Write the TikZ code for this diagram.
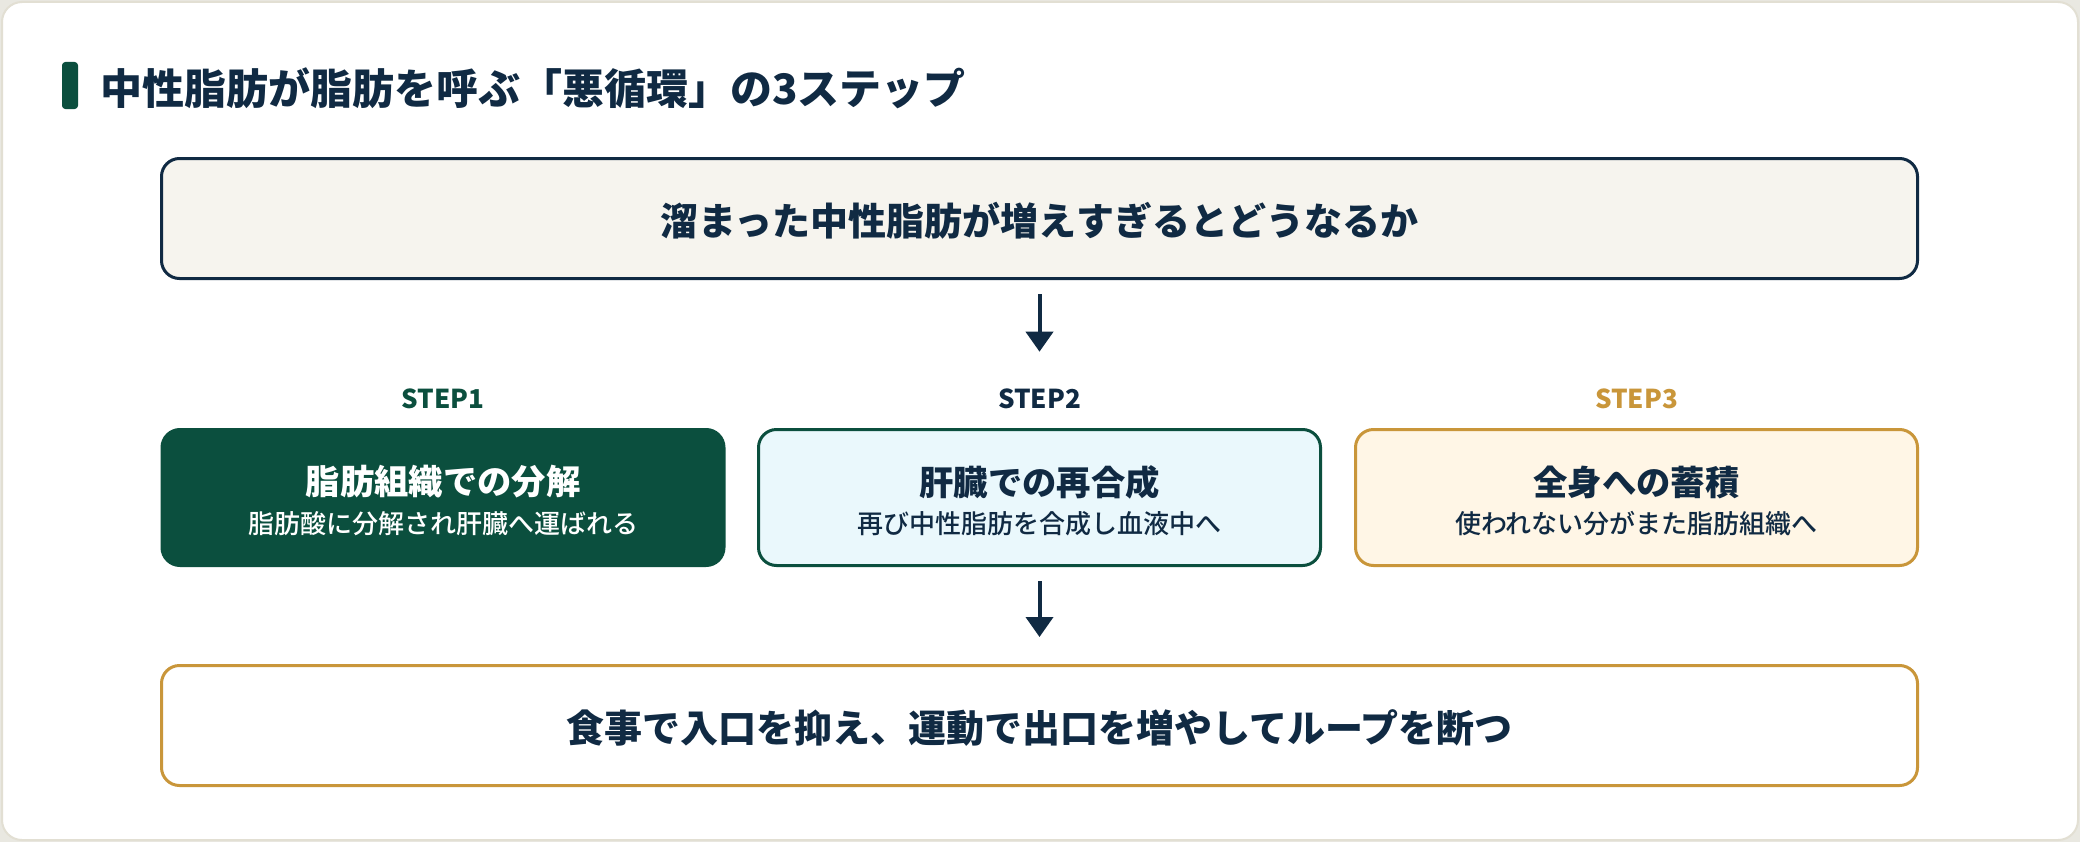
\documentclass[tikz,border=0pt]{standalone}
\usepackage{fontspec}
\setmainfont{Noto Sans CJK JP}
\newfontfamily\jpmed{Noto Sans CJK JP Medium}
\usetikzlibrary{arrows.meta}
\definecolor{navy}{HTML}{102A43}
\definecolor{dgreen}{HTML}{0B4F3E}
\definecolor{gold}{HTML}{C9963A}
\definecolor{topfill}{HTML}{F6F4EE}
\definecolor{cyanfill}{HTML}{EAF8FC}
\definecolor{creamfill}{HTML}{FFF6E6}
\definecolor{outerbg}{HTML}{E9E8E1}
\definecolor{framebd}{HTML}{E2DFD3}
\tikzset{
  wide/.style={draw=navy, line width=2.25pt, rounded corners=13.5pt,
    minimum width=0.75*1756pt, minimum height=0.75*120pt, inner sep=0pt},
  stepbox/.style={line width=2.25pt, rounded corners=13.5pt,
    minimum width=0.75*562pt, minimum height=0.75*136pt, inner sep=0pt},
  bigtext/.style={font=\fontsize{28.5pt}{34pt}\selectfont\bfseries, text=navy, inner sep=0pt},
  steptitle/.style={font=\fontsize{25.75pt}{30pt}\selectfont\bfseries, inner sep=0pt},
  stepsub/.style={font=\fontsize{19.5pt}{23pt}\selectfont\jpmed, inner sep=0pt},
  steplab/.style={font=\fontsize{19.5pt}{22pt}\selectfont\bfseries, inner sep=0pt},
  flow/.style={draw=navy, line width=3pt, -{Triangle[width=20.25pt, length=15pt]}},
}
\begin{document}
\begin{tikzpicture}[x=0.75pt, y=-0.75pt]
\useasboundingbox (0,0) rectangle (2080,842);
\fill[outerbg] (0,0) rectangle (2080,842);
\draw[framebd, fill=white, line width=1.5pt, rounded corners=15pt] (2,2) rectangle (2078,840);
% title
\fill[dgreen, rounded corners=2.5pt] (62,62) rectangle (78,109);
\node[anchor=west, inner sep=0pt, text=navy, font=\fontsize{31.5pt}{36pt}\selectfont\bfseries] (title) at (100,88) {中性脂肪が脂肪を呼ぶ「悪循環」の3ステップ};
% top box
\node[wide, fill=topfill] (top) at (1039.5,218.5) {};
\node[bigtext] (toptext) at (1039.5,221) {溜まった中性脂肪が増えすぎるとどうなるか};
% step labels
\node[steplab, text=dgreen] (l1) at (443,399) {STEP1};
\node[steplab, text=navy] (l2) at (1039.5,399) {STEP2};
\node[steplab, text=gold] (l3) at (1636.5,399) {STEP3};
% step boxes
\node[stepbox, fill=dgreen, draw=dgreen] (s1) at (443,497.5) {};
\node[stepbox, fill=cyanfill, draw=dgreen] (s2) at (1039.5,497.5) {};
\node[stepbox, fill=creamfill, draw=gold] (s3) at (1636.5,497.5) {};
\node[steptitle, text=white] (s1t) at (443,482) {脂肪組織での分解};
\node[stepsub, text=white] (s1s) at (443,523.5) {脂肪酸に分解され肝臓へ運ばれる};
\node[steptitle, text=navy] (s2t) at (1039.5,482) {肝臓での再合成};
\node[stepsub, text=navy] (s2s) at (1039.5,523.5) {再び中性脂肪を合成し血液中へ};
\node[steptitle, text=navy] (s3t) at (1636.5,482) {全身への蓄積};
\node[stepsub, text=navy] (s3s) at (1636.5,523.5) {使われない分がまた脂肪組織へ};
% bottom box
\node[wide, draw=gold, fill=white] (bot) at (1039.5,725.5) {};
\node[bigtext] (bottext) at (1039.5,728) {食事で入口を抑え、運動で出口を増やしてループを断つ};
% arrows
\draw[flow, shorten <=0.75*14pt, shorten >=0.75*37pt] (top.south) -- (l2.north);
\draw[flow, shorten <=0.75*14pt, shorten >=0.75*27pt] (s2.south) -- (bot.north);
\end{tikzpicture}
\end{document}
